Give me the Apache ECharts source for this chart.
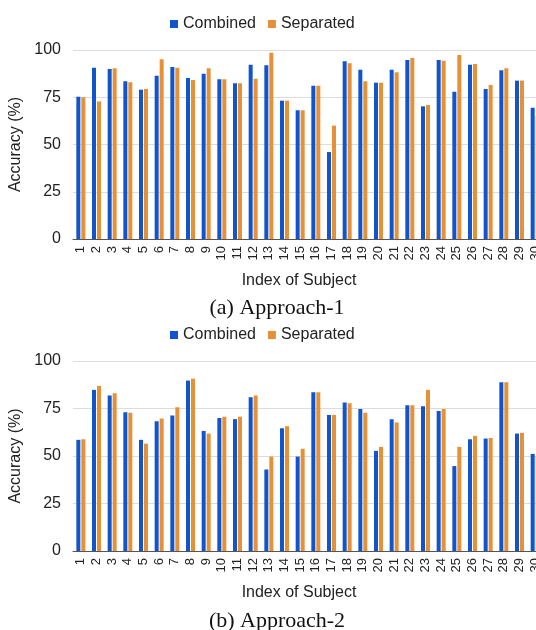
<!DOCTYPE html>
<html>
<head>
<meta charset="utf-8">
<script src="https://cdn.jsdelivr.net/npm/echarts@6/dist/echarts.min.js"></script>
<style>
html,body{margin:0;padding:0;background:#fff;}
#c{width:536px;height:630px;}
</style>
</head>
<body>
<div id="c"></div>
<script>
var subjects = ['1','2','3','4','5','6','7','8','9','10','11','12','13','14','15','16','17','18','19','20','21','22','23','24','25','26','27','28','29','30'];
var yTicks = [0, 25, 50, 75, 100];

var a1Combined  = [75.3, 90.6, 90.0, 83.4, 79.0, 86.4, 91.0, 85.2, 87.5, 84.5, 82.4, 92.2, 91.9, 73.2, 68.1, 81.1, 46.0, 94.0, 89.6, 82.7, 89.6, 94.7, 70.2, 94.7, 77.9, 92.2, 79.4, 89.3, 83.8, 69.5];
var a1Separated = [75.0, 72.8, 90.3, 82.9, 79.4, 95.1, 90.6, 84.1, 90.3, 84.5, 82.4, 84.8, 98.6, 73.2, 68.1, 81.1, 60.0, 93.0, 83.4, 82.7, 88.2, 95.8, 70.9, 94.3, 97.4, 92.6, 81.5, 90.3, 83.8, 65.0];

var a2Combined  = [58.5, 84.8, 81.8, 73.0, 58.5, 68.3, 71.3, 89.7, 63.2, 70.0, 69.4, 80.9, 42.9, 64.6, 49.7, 83.5, 71.6, 78.1, 74.8, 52.7, 69.4, 76.7, 76.2, 73.7, 44.7, 58.8, 59.2, 88.8, 61.8, 51.1];
var a2Separated = [58.8, 86.9, 83.0, 72.7, 56.5, 69.7, 75.7, 90.7, 61.8, 70.7, 70.7, 81.8, 49.7, 65.7, 53.8, 83.5, 71.6, 77.8, 72.7, 54.8, 67.6, 76.7, 84.8, 74.8, 54.8, 60.6, 59.5, 88.8, 62.2, 50.0];

var BLUE = '#1155cc', ORANGE = '#e69138';
var FONT = '"Liberation Sans", Arial, sans-serif';

function xAx(gi) {
  return {
    type: 'category', gridIndex: gi, data: subjects,
    name: 'Index of Subject', nameLocation: 'middle', nameGap: 34,
    nameTextStyle: {fontSize: 16, color: '#222', fontFamily: FONT, padding: [0, 18, 0, 0]},
    axisLine: {show: true, lineStyle: {color: '#555', width: 1}},
    axisTick: {show: false},
    axisLabel: {rotate: 90, interval: 0, fontSize: 13, color: '#222', fontFamily: FONT, margin: 7}
  };
}
function yAx(gi) {
  return {
    type: 'value', gridIndex: gi, min: yTicks[0], max: yTicks[yTicks.length-1], interval: 25,
    name: 'Accuracy (%)', nameLocation: 'middle', nameGap: 42, nameRotate: 90,
    nameTextStyle: {fontSize: 16, color: '#222', fontFamily: FONT},
    axisLine: {show: false}, axisTick: {show: false},
    axisLabel: {fontSize: 16, color: '#222', fontFamily: FONT, margin: 12},
    splitLine: {lineStyle: {color: '#dcdcdc', width: 1}}
  };
}
function bar(name, data, color, gi) {
  return {
    type: 'bar', name: name, data: data, xAxisIndex: gi, yAxisIndex: gi,
    barWidth: 4, barGap: '25%',
    itemStyle: {color: color}
  };
}
function legend(top) {
  return {
    top: top, left: 165, icon: 'rect', itemWidth: 8, itemHeight: 8, itemGap: 12,
    textStyle: {fontSize: 16, color: '#222', fontFamily: FONT},
    data: ['Combined', 'Separated']
  };
}

var chart = echarts.init(document.getElementById('c'), null, {renderer: 'canvas'});
chart.setOption({
  backgroundColor: '#fff',
  animation: false,
  legend: [legend(11), legend(322)],
  title: [
    {text: '(a) Approach-1', left: 272, top: 292, textAlign: 'center',
     textStyle: {fontSize: 22, fontWeight: 'normal', color: '#111', fontFamily: '"Liberation Serif", "Times New Roman", serif'}},
    {text: '(b) Approach-2', left: 272, top: 605, textAlign: 'center',
     textStyle: {fontSize: 22, fontWeight: 'normal', color: '#111', fontFamily: '"Liberation Serif", "Times New Roman", serif'}}
  ],
  grid: [
    {left: 73, top: 50, width: 470, height: 189, outerBoundsMode: 'none', containLabel: false},
    {left: 73, top: 361, width: 470, height: 190, outerBoundsMode: 'none', containLabel: false}
  ],
  xAxis: [xAx(0), xAx(1)],
  yAxis: [yAx(0), yAx(1)],
  series: [
    bar('Combined', a1Combined, BLUE, 0),
    bar('Separated', a1Separated, ORANGE, 0),
    bar('Combined', a2Combined, BLUE, 1),
    bar('Separated', a2Separated, ORANGE, 1)
  ]
});
</script>
</body>
</html>
